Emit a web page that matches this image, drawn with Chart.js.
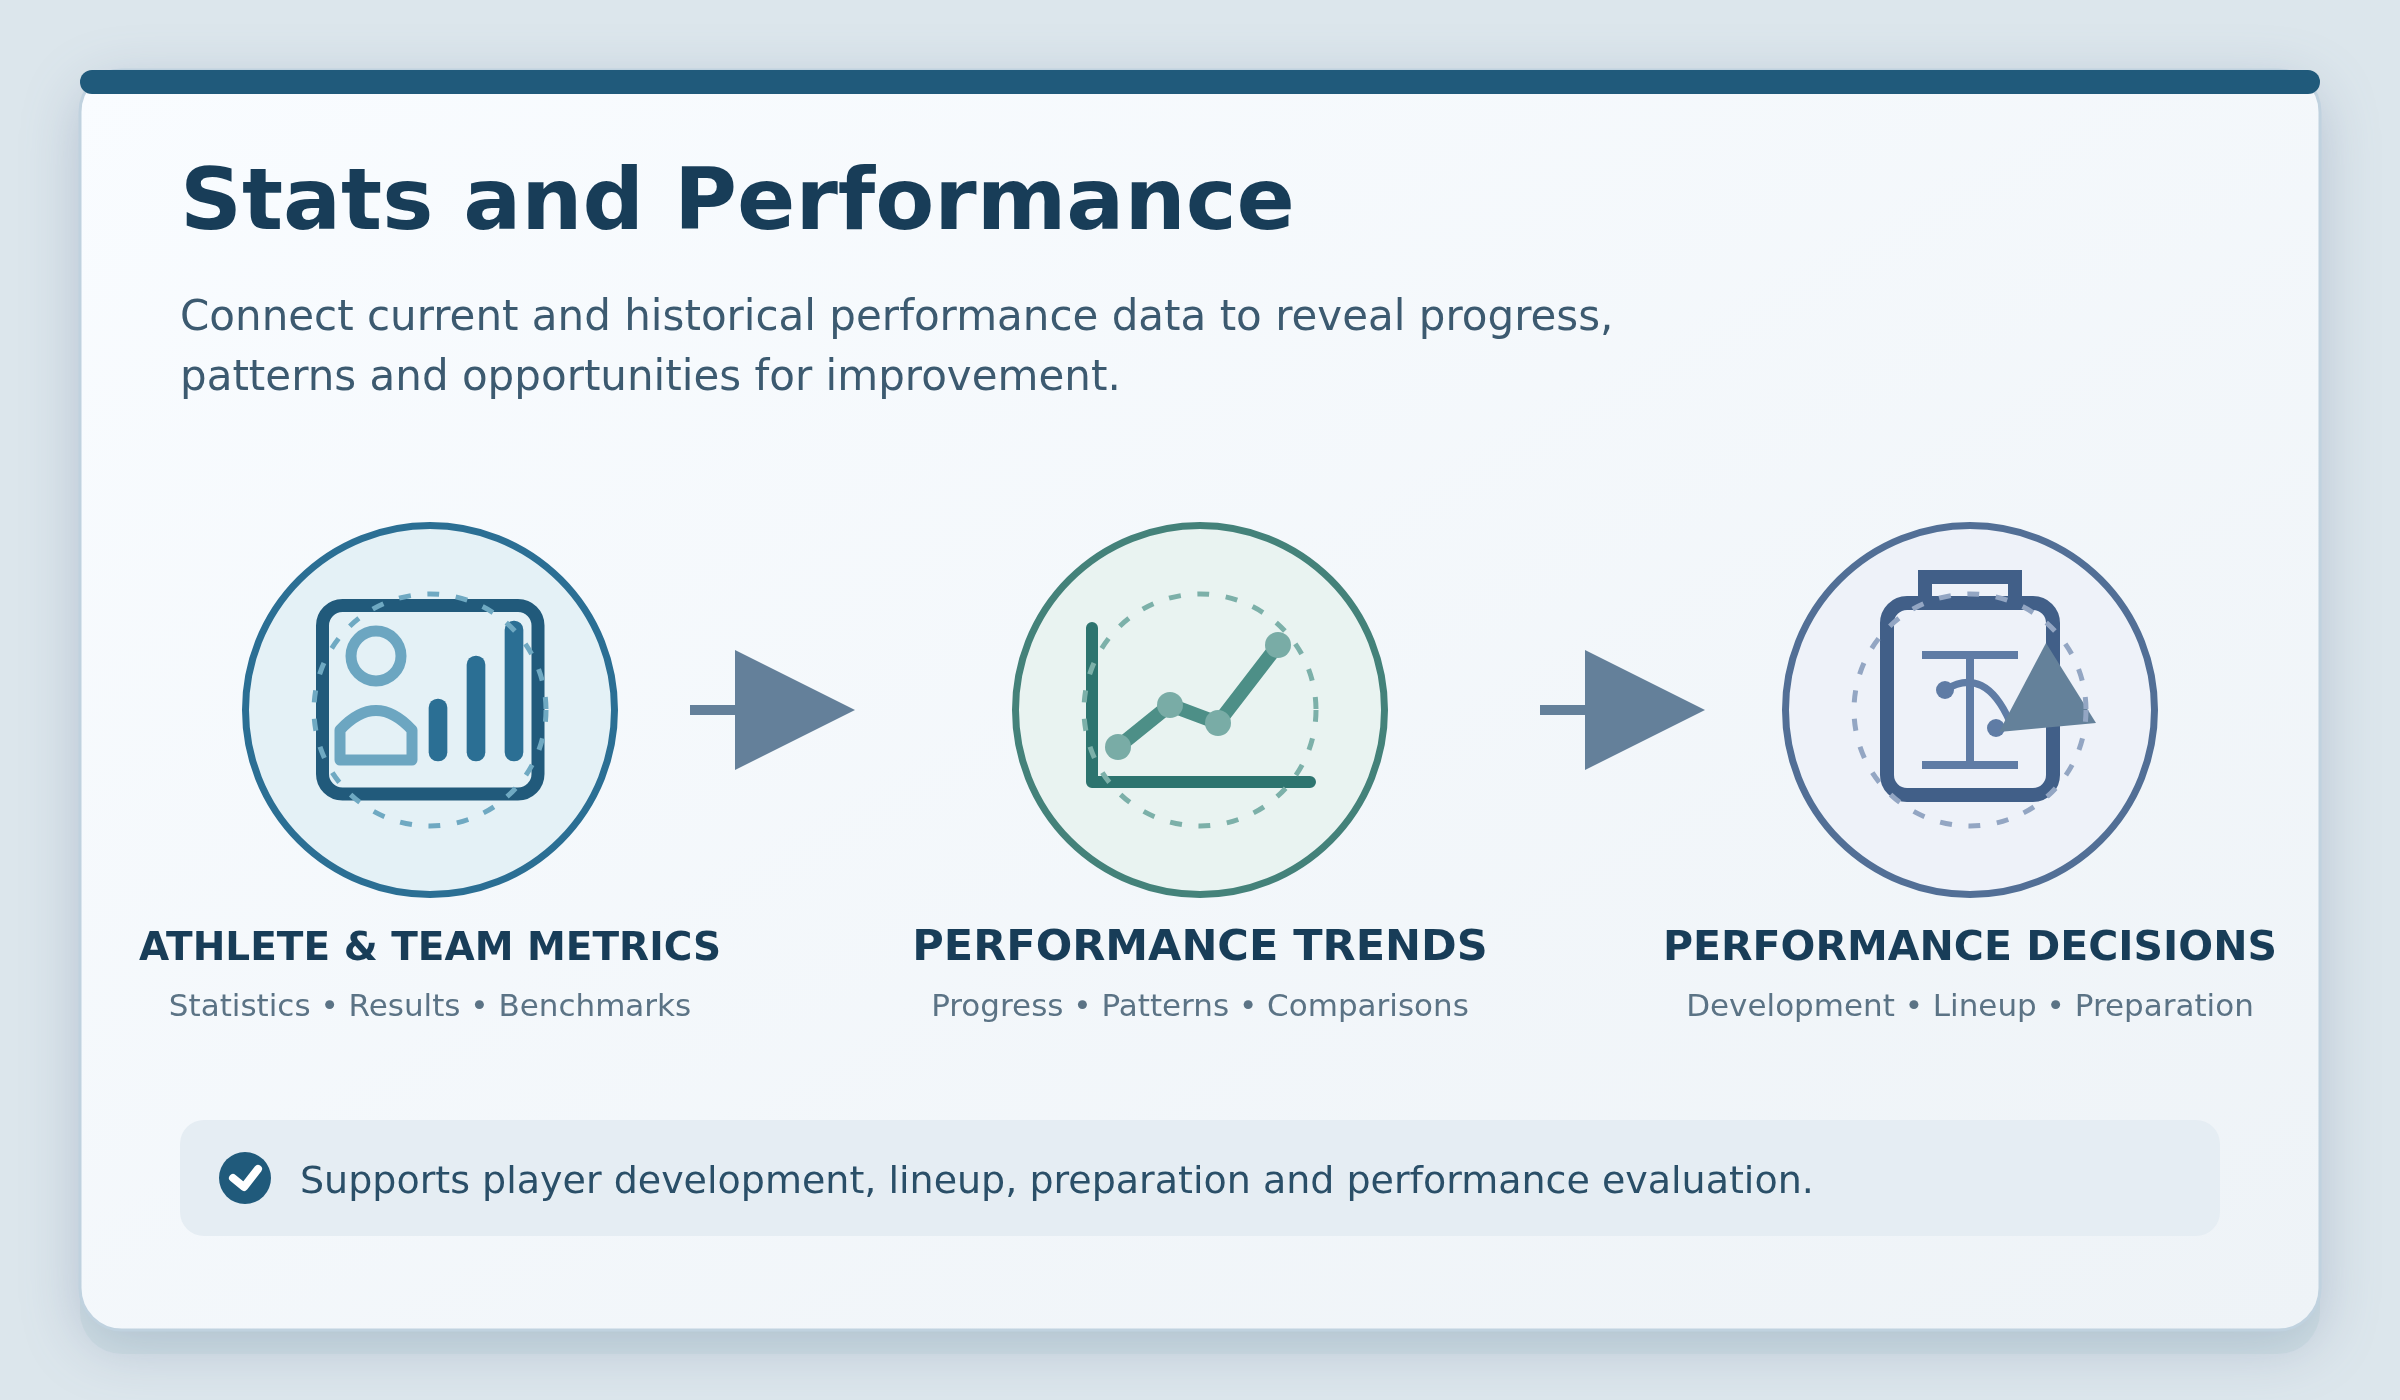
<!DOCTYPE html>
<html><head><meta charset="utf-8">
<style>html,body{margin:0;padding:0;background:#dce6ec}canvas{display:block}</style>
<script src="https://cdn.jsdelivr.net/npm/chart.js@4"></script>
</head><body>
<canvas id="c" width="2400" height="1400" style="width:2400px;height:1400px"></canvas>
<script>
const titleText = "Stats and Performance";
const subtitleLines = ["Connect current and historical performance data to reveal progress,", "patterns and opportunities for improvement."];
const stageTitles = ["ATHLETE & TEAM METRICS", "PERFORMANCE TRENDS", "PERFORMANCE DECISIONS"];
const stageDetails = ["Statistics \u2022 Results \u2022 Benchmarks", "Progress \u2022 Patterns \u2022 Comparisons", "Development \u2022 Lineup \u2022 Preparation"];
const footerText = "Supports player development, lineup, preparation and performance evaluation.";
const metricBarValues = [62, 105, 140];
const trendValues = [35, 77, 59, 137];

const FONT = '"DejaVu Sans"';
const centers = [430, 1200, 1970], cy = 710;
const stageTitleSizes = [39, 43, 41];
const ringStroke = ["#2b6f94", "#44827a", "#526f96"];
const ringFill = ["#e4f1f6", "#e9f3f1", "#eef2f9"];
const dashColor = ["#6fa9c2", "#7cb0a9", "#93a6c3"];
const barSlots = [438, 476, 514], barBase = 761;
const trendSlots = [1118, 1170, 1218, 1278], trendBase = 782;

function seg(points, color, width, cap, order) {
  return {type:'scatter', showLine:true, data:points, borderColor:color, borderWidth:width,
    borderCapStyle:cap||'butt', borderJoinStyle:'round', pointRadius:0, tension:0, order:order||5, fill:false};
}
const datasets = [
  {type:'bar', data:metricBarValues.map((v,i)=>({x:barSlots[i], y:[barBase-v, barBase]})),
   backgroundColor:"#2b6f94", barThickness:18, borderRadius:9, borderSkipped:false, grouped:false, order:6},
  seg([{x:1092,y:628},{x:1092,y:782},{x:1310,y:782}], "#2d746f", 12, 'round', 6),
  {type:'scatter', showLine:true, data:trendValues.map((v,i)=>({x:trendSlots[i], y:trendBase-v})),
   borderColor:"#4d8f87", borderWidth:14, tension:0, fill:false, pointRadius:13, pointBackgroundColor:"#79aca6",
   pointBorderWidth:0, order:4},
  seg([{x:690,y:710},{x:735,y:710}], "#64809a", 10, 'butt', 6),
  seg([{x:1540,y:710},{x:1585,y:710}], "#64809a", 10, 'butt', 6),
  seg([{x:1922,y:655},{x:2018,y:655}], "#5f7ca5", 8, 'butt', 6),
  seg([{x:1922,y:765},{x:2018,y:765}], "#5f7ca5", 8, 'butt', 6),
  seg([{x:1970,y:655},{x:1970,y:765}], "#5f7ca5", 8, 'butt', 6),
  {type:'scatter', data:[{x:1945,y:690},{x:1996,y:728}], showLine:false, pointRadius:9,
   pointBackgroundColor:"#5f7ca5", pointBorderWidth:0, order:4}
];

function rr(ctx,x,y,w,h,r){ctx.beginPath();ctx.roundRect(x,y,w,h,r);}
function tri(ctx,p,color){ctx.beginPath();ctx.moveTo(p[0],p[1]);ctx.lineTo(p[2],p[3]);ctx.lineTo(p[4],p[5]);ctx.closePath();ctx.fillStyle=color;ctx.fill();}

const scene = {
  id:'scene',
  beforeDatasetsDraw(chart){
    const ctx = chart.ctx, X=v=>chart.scales.x.getPixelForValue(v), Y=v=>chart.scales.y.getPixelForValue(v);
    ctx.save();
    ctx.fillStyle="#dce6ec"; ctx.fillRect(X(0),Y(0),2400,1400);
    // soft shadow
    ctx.save();
    ctx.shadowColor="rgba(112,128,160,0.36)"; ctx.shadowBlur=56; ctx.shadowOffsetY=16;
    ctx.fillStyle="#d0dae4"; rr(ctx,X(80),Y(70),2240,1260,42); ctx.fill();
    ctx.restore();
    ctx.fillStyle="rgba(160,195,200,0.20)"; rr(ctx,X(80),Y(94),2240,1260,42); ctx.fill();
    // card
    const g=ctx.createLinearGradient(X(80),Y(70),X(1157),Y(1984));
    g.addColorStop(0,"#f9fcff"); g.addColorStop(1,"#eef3f7");
    ctx.fillStyle=g; rr(ctx,X(80),Y(70),2240,1260,42); ctx.fill();
    ctx.strokeStyle="#c0d2df"; ctx.lineWidth=3; ctx.stroke();
    // header bar
    ctx.fillStyle="#205a7b"; rr(ctx,X(80),Y(70),2240,24,12); ctx.fill();
    // footer band
    ctx.fillStyle="#e5edf3"; rr(ctx,X(180),Y(1120),2040,116,24); ctx.fill();
    ctx.fillStyle="#205a7b"; ctx.beginPath(); ctx.arc(X(245),Y(1178),26,0,Math.PI*2); ctx.fill();
    ctx.strokeStyle="#fff"; ctx.lineWidth=8; ctx.lineCap='round'; ctx.lineJoin='round';
    ctx.beginPath(); ctx.moveTo(X(233),Y(1178)); ctx.lineTo(X(244),Y(1187)); ctx.lineTo(X(258),Y(1169)); ctx.stroke();
    ctx.lineCap='butt'; ctx.lineJoin='miter';
    // rings
    centers.forEach((c,i)=>{
      ctx.beginPath(); ctx.arc(X(c),Y(cy),184.5,0,Math.PI*2);
      ctx.fillStyle=ringFill[i]; ctx.fill(); ctx.strokeStyle=ringStroke[i]; ctx.lineWidth=7; ctx.stroke();
    });
    // icon 1 frame + person
    ctx.strokeStyle="#215a7b"; ctx.lineWidth=13; rr(ctx,X(322.5),Y(605.5),215.5,188.5,20); ctx.stroke();
    ctx.strokeStyle="#6ca6c1"; ctx.lineWidth=11;
    ctx.beginPath(); ctx.arc(X(376),Y(656),25,0,Math.PI*2); ctx.stroke();
    ctx.lineJoin='round';
    ctx.beginPath(); ctx.moveTo(X(340),Y(760)); ctx.lineTo(X(340),Y(730));
    ctx.quadraticCurveTo(X(376),Y(691),X(412),Y(730)); ctx.lineTo(X(412),Y(760)); ctx.closePath(); ctx.stroke();
    ctx.lineJoin='miter';
    // icon 3 clipboard
    ctx.strokeStyle="#415f88"; ctx.lineWidth=14;
    ctx.strokeRect(X(1925),Y(577),90,26);
    rr(ctx,X(1887),Y(603),166,192,20); ctx.fillStyle=ringFill[2]; ctx.fill(); ctx.stroke();
    ctx.strokeStyle="#5f7ca5"; ctx.lineWidth=7;
    ctx.beginPath(); ctx.moveTo(X(1945),Y(690)); ctx.quadraticCurveTo(X(1985),Y(665),X(2010),Y(722)); ctx.stroke();
    ctx.restore();
  },
  afterDatasetsDraw(chart){
    const ctx = chart.ctx, X=v=>chart.scales.x.getPixelForValue(v), Y=v=>chart.scales.y.getPixelForValue(v);
    ctx.save();
    tri(ctx,[X(735),Y(650),X(855),Y(710),X(735),Y(770)],"#64809a");
    tri(ctx,[X(1585),Y(650),X(1705),Y(710),X(1585),Y(770)],"#64809a");
    tri(ctx,[X(2046),Y(643),X(2096),Y(723),X(1999),Y(732)],"#64819a");
    centers.forEach((c,i)=>{
      ctx.setLineDash([12,16.6]); ctx.strokeStyle=dashColor[i]; ctx.lineWidth=5;
      ctx.beginPath(); ctx.arc(X(c),Y(cy),116,0,Math.PI*2); ctx.stroke();
    });
    ctx.setLineDash([]);
    ctx.textBaseline='alphabetic'; ctx.textAlign='left';
    ctx.fillStyle="#183d58"; ctx.font='bold 86px '+FONT; ctx.fillText(titleText,X(180),Y(229));
    ctx.fillStyle="#3c5a70"; ctx.font='42px '+FONT;
    subtitleLines.forEach((t,i)=>ctx.fillText(t,X(180),Y(330+60*i)));
    ctx.textAlign='center';
    stageTitles.forEach((t,i)=>{
      ctx.fillStyle="#183d58"; ctx.font='bold '+stageTitleSizes[i]+'px '+FONT; ctx.fillText(t,X(centers[i]),Y(960));
      ctx.fillStyle="#5b7385"; ctx.font='31px '+FONT; ctx.fillText(stageDetails[i],X(centers[i]),Y(1016));
    });
    ctx.textAlign='left';
    ctx.fillStyle="#2a4f68"; ctx.font='38px '+FONT; ctx.fillText(footerText,X(300),Y(1193));
    ctx.restore();
  }
};

new Chart(document.getElementById('c').getContext('2d'),{
  type:'scatter',
  data:{datasets},
  options:{
    responsive:false, devicePixelRatio:1, animation:false, events:[],
    layout:{padding:0, autoPadding:false},
    plugins:{legend:{display:false},tooltip:{enabled:false},title:{display:false}},
    scales:{
      x:{type:'linear',min:0,max:2400,display:false,offset:false},
      y:{type:'linear',min:0,max:1400,reverse:true,display:false}
    }
  },
  plugins:[scene]
});
</script>
</body></html>
